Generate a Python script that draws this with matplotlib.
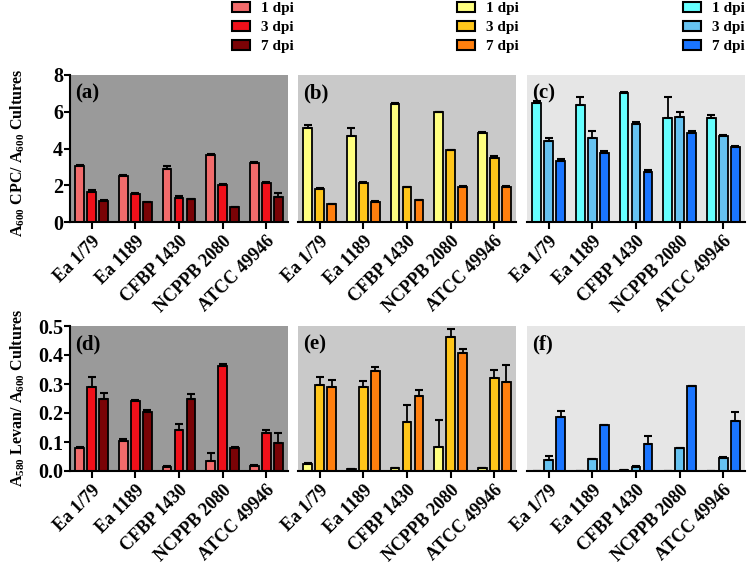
' Bar panels of CPC and levan production for five Erwinia strains '
import numpy as np
import matplotlib.pyplot as plt
from matplotlib.patches import Patch

plt.rcParams['font.family'] = 'Liberation Serif'
plt.rcParams['font.weight'] = 'bold'
plt.rcParams['mathtext.fontset'] = 'custom'
plt.rcParams['mathtext.rm'] = 'Liberation Serif:bold'
plt.rcParams['mathtext.it'] = 'Liberation Serif:bold'
plt.rcParams['mathtext.bf'] = 'Liberation Serif:bold'

strains = ['Ea 1/79', 'Ea 1189', 'CFBP 1430', 'NCPPB 2080', 'ATCC 49946']
dpi_labels = ['1 dpi', '3 dpi', '7 dpi']

# CPC / A600, rows are 1, 3 and 7 dpi
cpc_a = [[3.06, 2.52, 2.90, 3.66, 3.19],
         [1.61, 1.54, 1.30, 2.03, 2.14],
         [1.16, 1.07, 1.25, 0.80, 1.38]]
cpc_a_err = [[0.03, 0.05, 0.15, 0.06, 0.05],
             [0.11, 0.03, 0.13, 0.04, 0.04],
             [0.02, 0.02, 0.02, 0.02, 0.22]]
cpc_b = [[5.09, 4.67, 6.41, 5.96, 4.85],
         [1.78, 2.14, 1.88, 3.91, 3.50],
         [0.96, 1.10, 1.20, 1.88, 1.92]]
cpc_b_err = [[0.20, 0.42, 0.06, 0.05, 0.07],
             [0.06, 0.06, 0.03, 0.03, 0.10],
             [0.03, 0.02, 0.02, 0.10, 0.02]]
cpc_c = [[6.45, 6.36, 7.03, 5.67, 5.67],
         [4.42, 4.55, 5.33, 5.69, 4.67],
         [3.33, 3.77, 2.73, 4.82, 4.09]]
cpc_c_err = [[0.15, 0.42, 0.03, 1.11, 0.15],
             [0.16, 0.41, 0.10, 0.31, 0.04],
             [0.12, 0.08, 0.10, 0.11, 0.03]]

# Levan A580 / A600
lev_d = [[0.080, 0.102, 0.015, 0.035, 0.017],
         [0.290, 0.242, 0.141, 0.361, 0.130],
         [0.250, 0.204, 0.247, 0.081, 0.097]]
lev_d_err = [[0.003, 0.008, 0.002, 0.026, 0.002],
             [0.034, 0.003, 0.021, 0.009, 0.011],
             [0.020, 0.007, 0.017, 0.003, 0.035]]
lev_e = [[0.024, 0.007, 0.011, 0.084, 0.009],
         [0.296, 0.289, 0.168, 0.462, 0.319],
         [0.290, 0.346, 0.258, 0.407, 0.307]]
lev_e_err = [[0.002, 0.001, 0.001, 0.091, 0.001],
             [0.028, 0.020, 0.061, 0.026, 0.028],
             [0.025, 0.013, 0.021, 0.013, 0.060]]
lev_f = [[0.0, 0.0, 0.003, 0.0, 0.0],
         [0.038, 0.040, 0.015, 0.078, 0.046],
         [0.185, 0.157, 0.094, 0.292, 0.173]]
lev_f_err = [[0.0, 0.0, 0.0, 0.0, 0.0],
             [0.015, 0.002, 0.002, 0.002, 0.002],
             [0.022, 0.003, 0.027, 0.002, 0.031]]

colours = [['#f26b6b', '#f0101a', '#7a0306'],
           ['#ffff80', '#ffc61a', '#ff7f0e'],
           ['#66ffff', '#66c2f0', '#1a75ff']]
backgrounds = ['#9a9a9a', '#c9c9c9', '#e6e6e6']

fig = plt.figure(figsize=(7.48, 5.62), dpi=100)
W, H = 748, 562
col_left = [70, 298, 527]
col_w = 218


def panel(left, top, bottom, means, errs, cols, bg, tag, ylim, yticks, first):
    ax = fig.add_axes([left / W, 1 - bottom / H, col_w / W, (bottom - top) / H])
    ax.set_facecolor(bg)
    x = np.arange(len(strains))
    for k in range(3):
        xs = x + (k - 1) * 0.275
        ax.bar(xs, means[k], width=0.2, color=cols[k], edgecolor='black',
               linewidth=1.3, zorder=2)
        ax.errorbar(xs, means[k], yerr=[np.zeros(len(strains)), errs[k]],
                    fmt='none', ecolor='black', elinewidth=1.3, capsize=3,
                    capthick=1.5, zorder=3)
    ax.set_xlim(-0.5, 4.5)
    ax.set_ylim(*ylim)
    ax.set_xticks(x)
    ax.set_xticklabels(strains, rotation=45, ha='right', rotation_mode='anchor',
                       fontsize=13, fontweight='bold')
    for s in ['top', 'right']:
        ax.spines[s].set_visible(False)
    ax.spines['bottom'].set_linewidth(1.5)
    ax.tick_params(axis='x', length=5, width=1.5, pad=3)
    if first:
        ax.spines['left'].set_linewidth(1.5)
        ax.set_yticks(yticks)
        ax.tick_params(axis='y', length=4, width=1.5, labelsize=14.5, pad=1)
    else:
        ax.spines['left'].set_visible(False)
        ax.set_yticks([])
    ax.text(0.025, 0.94, tag, transform=ax.transAxes, fontsize=15,
            fontweight='bold', va='top', ha='left')
    return ax


top_sets = [(cpc_a, cpc_a_err), (cpc_b, cpc_b_err), (cpc_c, cpc_c_err)]
bot_sets = [(lev_d, lev_d_err), (lev_e, lev_e_err), (lev_f, lev_f_err)]
tags_top = ['(a)', '(b)', '(c)']
tags_bot = ['(d)', '(e)', '(f)']

for i in range(3):
    ax = panel(col_left[i], 75, 222, top_sets[i][0], top_sets[i][1], colours[i],
               backgrounds[i], tags_top[i], (0, 8), [0, 2, 4, 6, 8], i == 0)
    if i == 0:
        ax.set_ylabel(r'A$_{600}$ CPC/ A$_{600}$ Cultures', fontsize=11.5,
                      fontweight='bold')
        ax.yaxis.set_label_coords(-0.195, 0.47)
    ax = panel(col_left[i], 326, 471, bot_sets[i][0], bot_sets[i][1], colours[i],
               backgrounds[i], tags_bot[i], (0, 0.5),
               [0.0, 0.1, 0.2, 0.3, 0.4, 0.5], i == 0)
    if i == 0:
        ax.set_yticklabels(['0.0', '0.1', '0.2', '0.3', '0.4', '0.5'])
        ax.set_ylabel(r'A$_{580}$ Levan/ A$_{600}$ Cultures', fontsize=11.5,
                      fontweight='bold')
        ax.yaxis.set_label_coords(-0.195, 0.5)

# legends above each column
leg_x = [230, 455, 681]
for i in range(3):
    handles = [Patch(facecolor=colours[i][k], edgecolor='black', linewidth=1.5,
                     label=dpi_labels[k]) for k in range(3)]
    fig.legend(handles=handles, loc='upper left',
               bbox_to_anchor=(leg_x[i] / W, 1 - 0 / H), frameon=False,
               prop={'family': 'Liberation Serif', 'weight': 'bold', 'size': 11},
               handlelength=1.2, handleheight=0.7, handletextpad=0.7,
               labelspacing=0.35, borderpad=0.1, borderaxespad=0)

fig.savefig('out.png', dpi=100)
